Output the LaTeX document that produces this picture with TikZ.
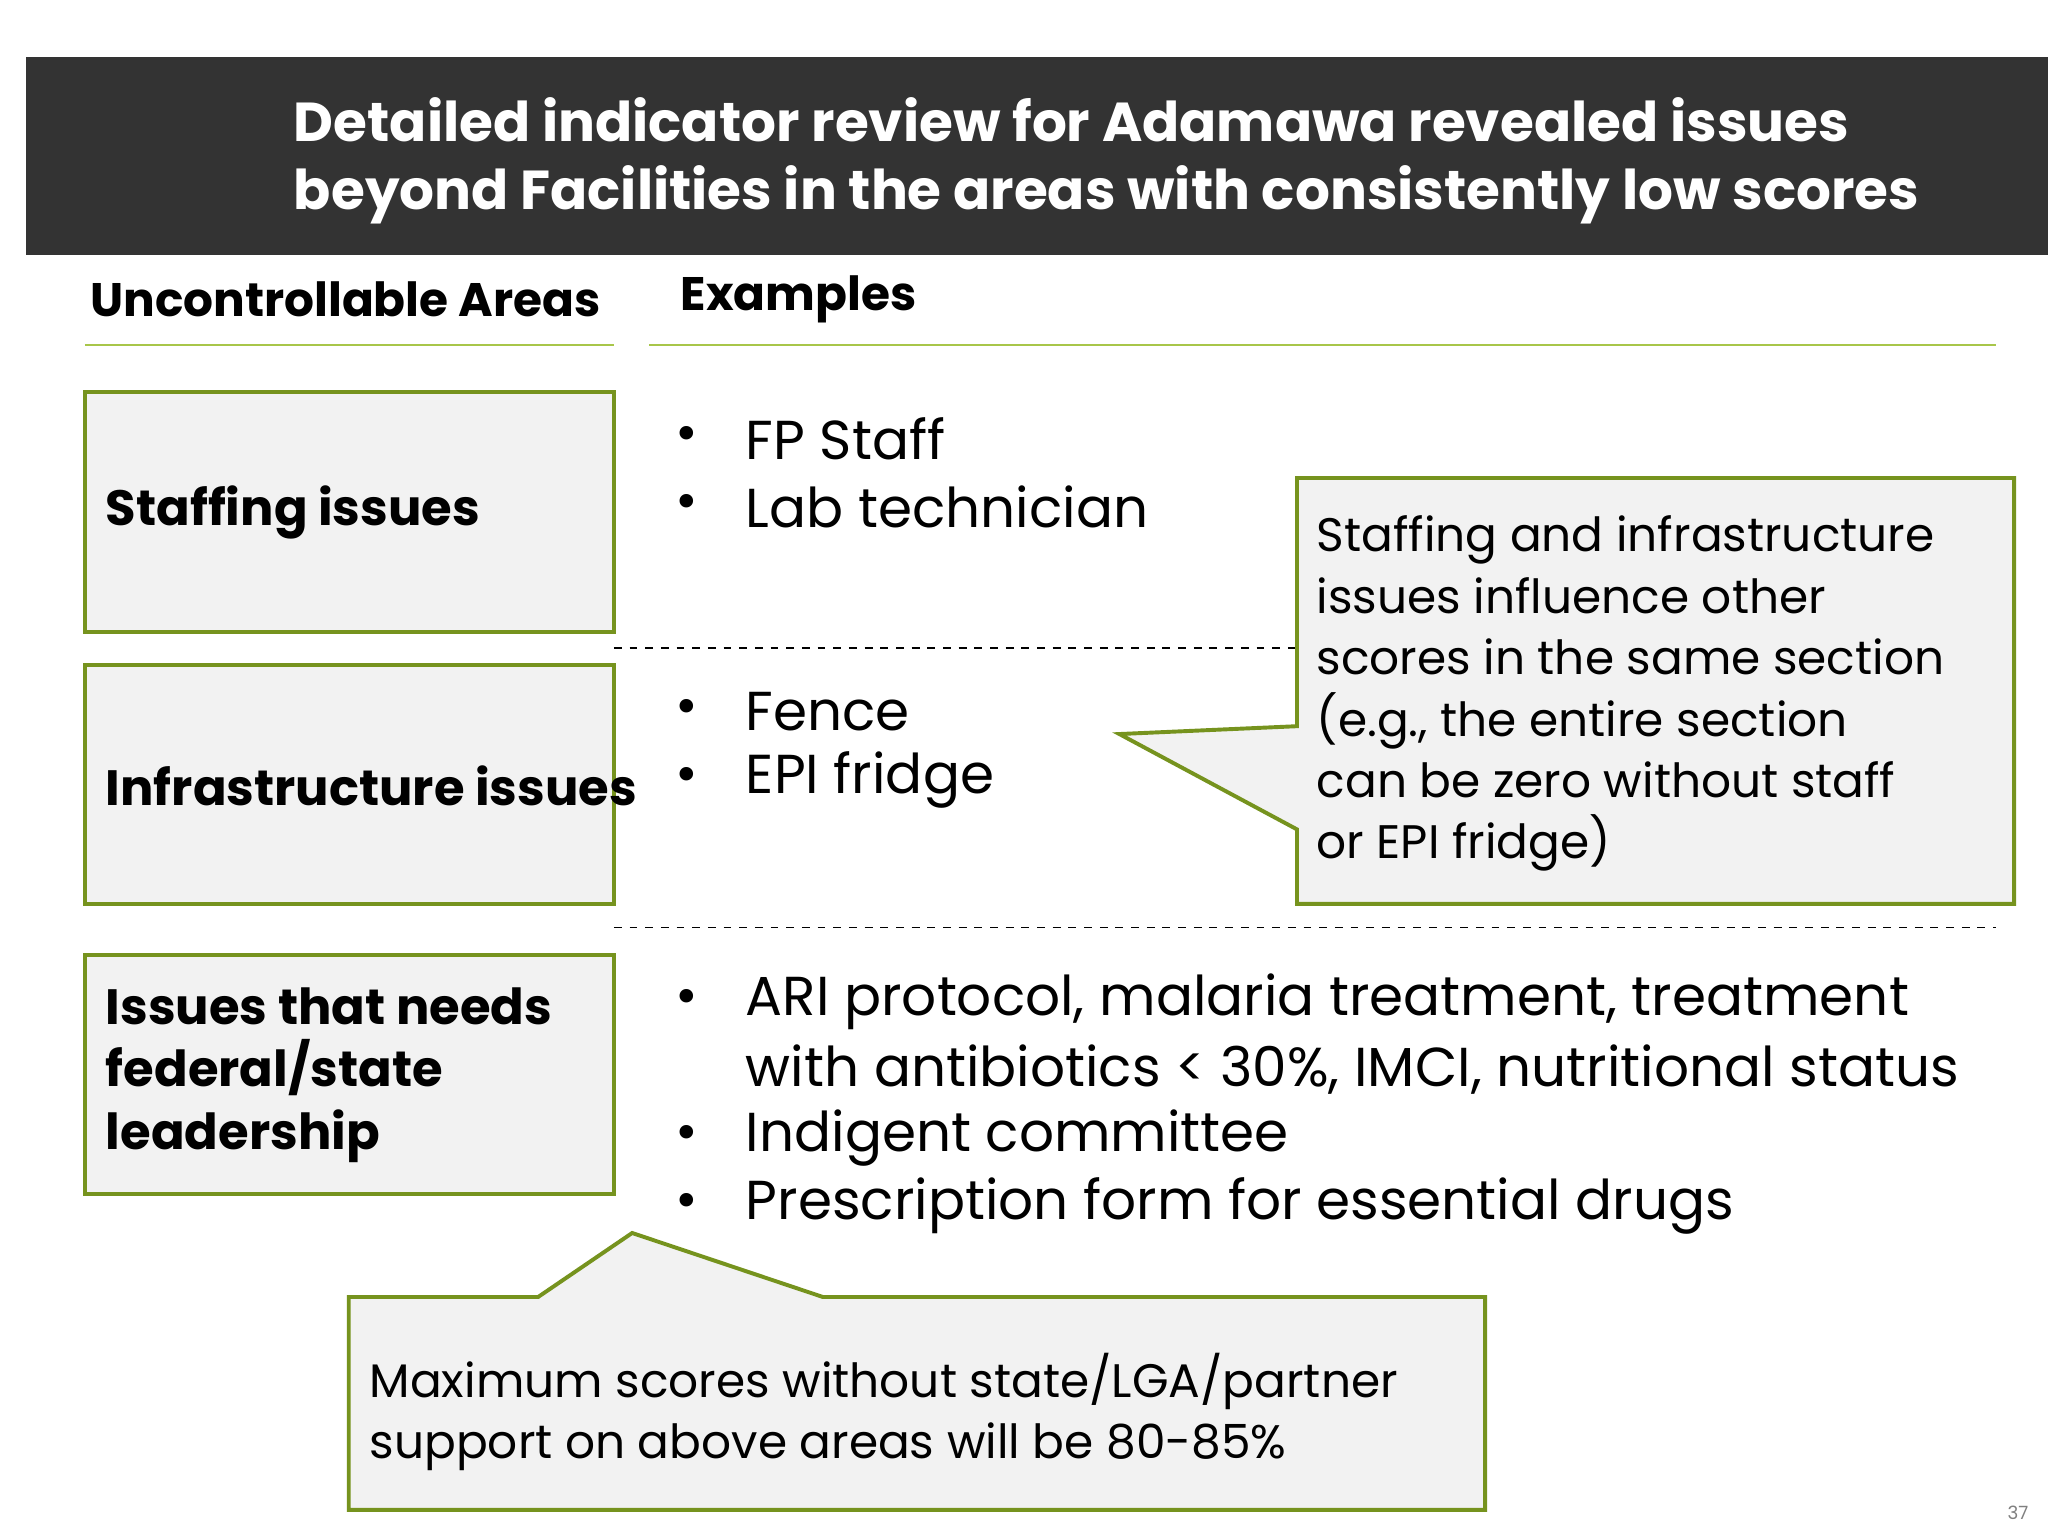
\documentclass[tikz,border=0pt]{standalone}
\usepackage{fontspec}
\setmainfont{Poppins}
\begin{document}
\begin{tikzpicture}[x=0.5pt,y=-0.5pt,
  area/.style={draw=boxgreen,line width=1.5pt,fill=boxgray},
  areatext/.style={anchor=west,font=\fontsize{19}{24}\selectfont\bfseries,align=left,text=black},
  bul/.style={anchor=west,font=\fontsize{21}{26}\selectfont,text=black},
  note/.style={anchor=north west,font=\fontsize{18}{23.5}\selectfont,align=left,text=black},
  hdr/.style={anchor=west,font=\fontsize{18}{22}\selectfont\bfseries}]
\definecolor{boxgreen}{HTML}{76931E}
\definecolor{linegreen}{HTML}{A8C64A}
\definecolor{boxgray}{HTML}{F2F2F2}
\definecolor{bar}{HTML}{333333}
\useasboundingbox (0,0) rectangle (1568,1176);
\fill[white] (0,0) rectangle (1568,1176);
\fill[bar] (20,44) rectangle (1568,195);
\node[anchor=north west,text=white,font=\fontsize{21}{26}\selectfont\bfseries,align=left] (title) at (218,68)
 {Detailed indicator review for Adamawa revealed issues\\beyond Facilities in the areas with consistently low scores};
\node[hdr] (h1) at (62,229) {Uncontrollable Areas};
\node[hdr] (h2) at (514,229) {Examples};
\draw[linegreen,line width=1pt] (65,264) -- (470,264);
\draw[linegreen,line width=1pt] (497,264) -- (1528,264);
\draw[area] (65,300) rectangle (470,484);
\draw[area] (65,509) rectangle (470,692);
\draw[area] (65,731) rectangle (470,914);
\node[areatext] (a1) at (74,392) {Staffing issues};
\node[areatext] (a2) at (74,602) {Infrastructure issues};
\node[areatext] (a3) at (74,823) {Issues that needs\\federal/state\\leadership};
\draw[dashed,line width=0.6pt] (470,496) -- (992,496);
\draw[dashed,line width=0.6pt] (470,710) -- (1528,710);
\foreach \y/\t in {336/FP Staff,388/Lab technician,545/Fence,597/EPI fridge,767/{ARI protocol, malaria treatment, treatment},871/Indigent committee,923/Prescription form for essential drugs}{
  \node[bul] at (510,\y) {•};
  \node[bul] at (564,\y) {\t};
}
\node[bul] (ari2) at (564,819) {with antibiotics < 30\%, IMCI, nutritional status};
\draw[area] (993,366) -- (1542,366) -- (1542,692) -- (993,692) -- (993,635) -- (857,562) -- (993,556) -- cycle;
\node[note] (n1) at (1001,388) {Staffing and infrastructure\\issues influence other\\scores in the same section\\(e.g., the entire section\\can be zero without staff\\or EPI fridge)};
\draw[area] (267,993) -- (412,993) -- (484,944) -- (630,993) -- (1137,993) -- (1137,1156) -- (267,1156) -- cycle;
\node[note] (n2) at (276,1029) {Maximum scores without state/LGA/partner\\support on above areas will be 80-85\%};
\node[anchor=center,text=gray,font=\fontsize{7}{8}\selectfont] (pg) at (1545,1158) {37};
\end{tikzpicture}
\end{document}
